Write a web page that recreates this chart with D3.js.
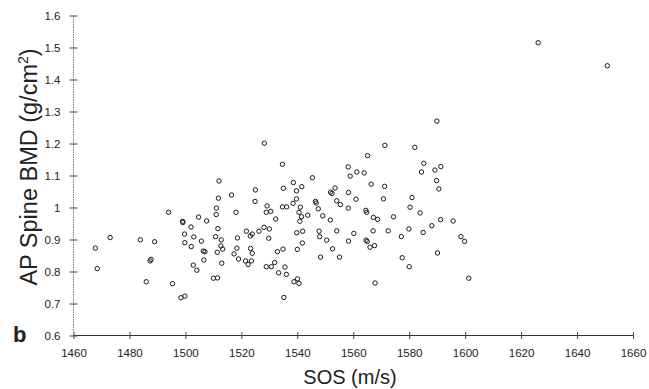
<!DOCTYPE html>
<html>
<head>
<meta charset="utf-8">
<script src="https://cdn.jsdelivr.net/npm/d3@7"></script>
<style>
  body { margin: 0; background: #fff; }
  text { font-family: "Liberation Sans", Arial, sans-serif; fill: #222; }
</style>
</head>
<body>
<svg id="chart" width="649" height="389"></svg>
<script>
// SOS (m/s) vs AP spine BMD (g/cm2)
var points = [
  [1467.8,0.873],[1468.5,0.809],[1473.1,0.906],[1483.9,0.899],[1489.0,0.893],[1487.7,0.838],
  [1487.4,0.833],[1486.0,0.768],[1494.0,0.985],[1495.4,0.762],[1498.4,0.718],[1499.8,0.723],
  [1499.0,0.957],[1499.1,0.953],[1502.0,0.939],[1499.7,0.917],[1503.0,0.908],[1499.8,0.890],
  [1502.1,0.878],[1504.7,0.970],[1507.6,0.958],[1505.7,0.895],[1506.4,0.864],[1507.0,0.862],
  [1506.6,0.836],[1502.8,0.820],[1504.1,0.804],[1510.0,0.779],[1511.5,0.780],[1512.0,1.083],
  [1511.8,1.029],[1511.1,0.998],[1511.0,0.978],[1516.5,1.039],[1518.1,0.985],[1511.6,0.934],
  [1510.8,0.909],[1512.8,0.899],[1512.7,0.880],[1513.3,0.870],[1511.4,0.860],[1513.0,0.826],
  [1518.6,0.905],[1518.4,0.873],[1517.4,0.855],[1519.0,0.839],
  [1528.2,1.201],[1534.7,1.135],[1525.0,1.055],[1524.9,1.019],[1529.2,1.005],[1528.9,0.985],
  [1530.5,0.988],[1532.3,0.964],[1534.7,1.002],[1536.2,1.002],[1535.0,1.060],[1538.6,1.078],
  [1539.7,1.052],[1541.6,1.065],[1539.7,1.027],[1538.5,1.013],[1541.1,1.001],[1540.6,0.985],
  [1541.5,0.971],[1540.9,0.957],[1543.7,0.976],[1545.4,1.093],[1521.8,0.926],[1523.2,0.911],
  [1523.9,0.917],[1526.3,0.926],[1528.1,0.938],[1530.0,0.933],[1529.8,0.904],[1521.5,0.833],
  [1522.4,0.822],[1523.6,0.833],[1523.3,0.872],[1523.9,0.857],[1532.9,0.862],[1534.9,0.870],
  [1528.9,0.815],[1530.7,0.815],[1531.9,0.828],[1533.3,0.796],[1535.6,0.814],[1536.1,0.791],
  [1538.8,0.768],[1540.1,0.777],[1540.6,0.763],[1535.2,0.719],[1539.8,0.921],[1541.9,0.926],
  [1541.8,0.889],[1540.0,0.869],[1546.5,1.019],[1546.7,1.014],[1547.5,0.996],[1549.1,0.974],
  [1551.8,0.961],[1551.9,1.048],[1552.4,1.044],[1553.5,1.061],[1554.1,1.021],[1555.4,1.009],
  [1558.3,1.047],[1558.2,1.127],[1558.9,1.098],[1561.3,1.111],[1563.9,1.108],[1565.1,1.162],
  [1571.3,1.194],[1566.4,1.073],[1571.2,1.066],[1570.8,1.027],[1558.2,0.998],[1561.0,1.026],
  [1564.5,0.991],[1564.8,0.985],[1567.2,0.969],[1568.7,0.963],[1574.4,0.971],[1547.8,0.926],
  [1548.0,0.909],[1550.5,0.898],[1554.1,0.927],[1552.6,0.871],[1548.3,0.845],[1555.1,0.845],
  [1558.3,0.895],[1560.2,0.919],[1564.6,0.898],[1565.0,0.894],[1566.0,0.876],[1567.6,0.881],
  [1567.1,0.927],[1572.5,0.927],[1567.8,0.764],
  [1589.9,1.270],[1582.0,1.188],[1585.2,1.138],[1584.4,1.111],[1589.2,1.117],[1591.3,1.128],
  [1589.8,1.084],[1590.6,1.058],[1581.0,1.031],[1580.3,1.001],[1583.9,0.983],[1591.2,0.962],
  [1595.7,0.958],[1588.1,0.943],[1579.9,0.933],[1585.0,0.922],[1577.2,0.909],[1598.5,0.909],
  [1599.8,0.894],[1590.1,0.858],[1577.5,0.843],[1580.0,0.815],[1601.3,0.779],
  [1626.1,1.515],[1650.8,1.443]
];
var xTicks = [1460,1480,1500,1520,1540,1560,1580,1600,1620,1640,1660];
var yTicks = [0.6,0.7,0.8,0.9,1,1.1,1.2,1.3,1.4,1.5,1.6];
var xTitle = "SOS (m/s)";
var panelLabel = "b";

var svg = d3.select("#chart");
var x = d3.scaleLinear().domain([1460, 1660]).range([73.5, 633]);
var y = d3.scaleLinear().domain([0.6, 1.6]).range([335.5, 15.5]);

// x axis, ticks cross the line
var gx = svg.append("g")
    .attr("transform", "translate(0," + y(0.6) + ")")
    .call(d3.axisBottom(x).tickValues(xTicks).tickSize(3.5).tickPadding(10)
      .tickFormat(d3.format("d")));
gx.select(".domain").attr("stroke", "#333").attr("d", "M" + x(1460) + ",0H" + x(1660));
gx.selectAll(".tick line").attr("y1", -3.5).attr("stroke", "#444");
gx.selectAll(".tick text").style("font-size", "11.5px").attr("fill", "#222");

var gy = svg.append("g")
    .attr("transform", "translate(" + x(1460) + ",0)")
    .call(d3.axisLeft(y).tickValues(yTicks).tickSize(4).tickPadding(9)
      .tickFormat(function (d) { return d === 1 ? "1" : d3.format(".1f")(d); }));
gy.select(".domain").attr("stroke", "#777").attr("stroke-dasharray", "1.5,1")
    .attr("d", "M0," + y(0.6) + "V" + y(1.6));
gy.selectAll(".tick line").attr("x1", 4).attr("stroke", "#444");
gy.selectAll(".tick text").style("font-size", "11.5px").attr("fill", "#222");

// points
svg.append("g")
  .selectAll("circle")
  .data(points)
  .enter()
  .append("circle")
    .attr("cx", function (d) { return x(d[0]); })
    .attr("cy", function (d) { return y(d[1]); })
    .attr("r", 2.2)
    .attr("fill", "none")
    .attr("stroke", "#1a1a1a")
    .attr("stroke-width", 1);

// titles
svg.append("text")
    .attr("x", 350).attr("y", 384)
    .attr("text-anchor", "middle")
    .style("font-size", "20px")
    .text(xTitle);

var yt = svg.append("text")
    .attr("transform", "translate(37,167) rotate(-90)")
    .attr("text-anchor", "middle")
    .style("font-size", "23.5px");
yt.append("tspan").text("AP Spine BMD (g/cm");
yt.append("tspan").attr("dy", -9).style("font-size", "14px").text("2");
yt.append("tspan").attr("dy", 9).text(")");

svg.append("text")
    .attr("x", 13).attr("y", 342)
    .style("font-size", "22px")
    .style("font-weight", "bold")
    .text(panelLabel);
</script>
</body>
</html>
